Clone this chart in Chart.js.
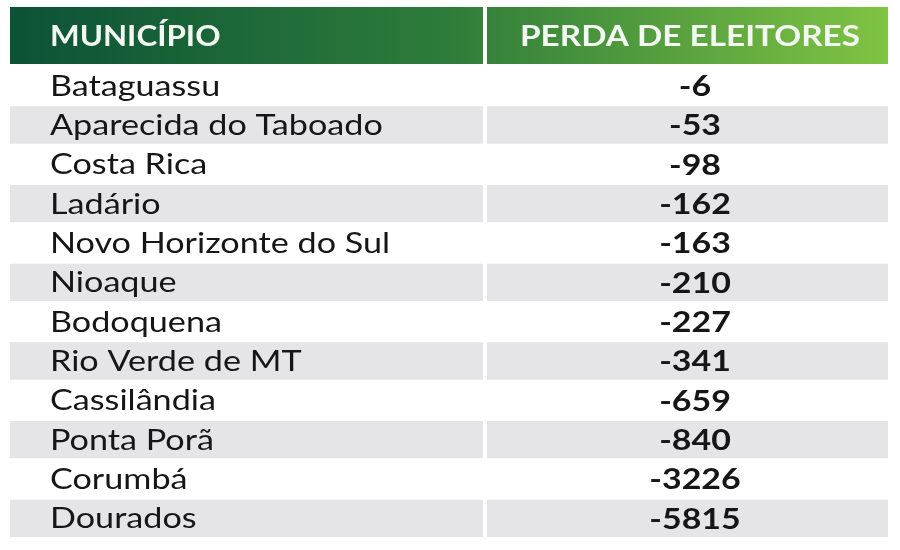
<!DOCTYPE html>
<html>
<head>
<meta charset="utf-8">
<script src="https://cdn.jsdelivr.net/npm/chart.js@4"></script>
<style>
  body { margin: 0; background: #ffffff; }
  #tableChart { display: block; }
</style>
</head>
<body>
<canvas id="tableChart" width="900" height="550"></canvas>
<script>
// Data
const headers = ['MUNICÍPIO', 'PERDA DE ELEITORES'];
const municipios = [
  'Bataguassu', 'Aparecida do Taboado', 'Costa Rica', 'Ladário',
  'Novo Horizonte do Sul', 'Nioaque', 'Bodoquena', 'Rio Verde de MT',
  'Cassilândia', 'Ponta Porã', 'Corumbá', 'Dourados'
];
const perdas = [-6, -53, -98, -162, -163, -210, -227, -341, -659, -840, -3226, -5815];

// layout (x scale runs 0..878, i.e. pixels from the table's left edge)
const leftCell = [0, 473];
const rightCell = [477, 878];
const rowColors = municipios.map((m, i) => i % 2 === 0 ? '#ffffff' : '#e5e5e7');

const FONT = 'Lato, "Open Sans", sans-serif';

// the original font is wider than Lato, so stretch the text a bit
function wideText(ctx, text, x, y, align, sx) {
  ctx.save();
  ctx.translate(x, y);
  ctx.scale(sx, 1);
  ctx.textAlign = align;
  ctx.fillText(text, 0, 0);
  ctx.restore();
}

const tablePlugin = {
  id: 'tableText',
  beforeDatasetsDraw(chart) {
    const ctx = chart.ctx;
    const area = chart.chartArea;
    const x = chart.scales.x;
    // header band
    const top = 7, bottom = 64;
    const grad = ctx.createLinearGradient(area.left, 0, area.right, 0);
    grad.addColorStop(0, '#0b5236');
    grad.addColorStop(0.5, '#2e7c3a');
    grad.addColorStop(1, '#80c443');
    ctx.save();
    ctx.fillStyle = grad;
    ctx.fillRect(area.left, top, area.right - area.left, bottom - top);
    ctx.fillStyle = '#ffffff';
    ctx.fillRect(x.getPixelForValue(leftCell[1]), top, x.getPixelForValue(rightCell[0]) - x.getPixelForValue(leftCell[1]), bottom - top);

    ctx.fillStyle = '#f4f8f2';
    ctx.textBaseline = 'middle';
    ctx.font = 'bold 28px ' + FONT;
    wideText(ctx, headers[0], x.getPixelForValue(leftCell[0]) + 40, (top + bottom) / 2 + 1, 'left', 1.12);
    wideText(ctx, headers[1], 690, (top + bottom) / 2 + 1, 'center', 1.19);
    ctx.restore();
  },
  afterDatasetsDraw(chart) {
    const ctx = chart.ctx;
    const x = chart.scales.x;
    const y = chart.scales.y;
    ctx.save();
    ctx.fillStyle = '#161616';
    ctx.textBaseline = 'middle';
    municipios.forEach((name, i) => {
      const py = y.getPixelForValue(i) + 1;
      ctx.font = '28px ' + FONT;
      wideText(ctx, name, x.getPixelForValue(leftCell[0]) + 40, py, 'left', 1.22);
      ctx.font = 'bold 29px ' + FONT;
      wideText(ctx, String(perdas[i]), 695, py, 'center', 1.17);
    });
    ctx.restore();
  }
};

const tableCtx = document.getElementById('tableChart').getContext('2d');

const tableChart = new Chart(tableCtx, {
  type: 'bar',
  data: {
    labels: municipios,
    datasets: [{
      label: 'Município',
      data: municipios.map(() => leftCell),
      backgroundColor: rowColors,
      borderWidth: 0,
      borderSkipped: false,
      barPercentage: 1,
      categoryPercentage: 0.95,
      grouped: false
    }, {
      label: 'Perda de eleitores',
      data: perdas.map(() => rightCell),
      backgroundColor: rowColors,
      borderWidth: 0,
      borderSkipped: false,
      barPercentage: 1,
      categoryPercentage: 0.95,
      grouped: false
    }]
  },
  options: {
    indexAxis: 'y',
    responsive: false,
    animation: false,
    layout: {
      padding: { left: 10, right: 12, top: 66, bottom: 12 }
    },
    plugins: {
      legend: { display: false },
      tooltip: { enabled: false },
      title: { display: false }
    },
    scales: {
      x: { type: 'linear', min: 0, max: 878, display: false },
      y: { display: false }
    }
  },
  plugins: [tablePlugin]
});
</script>
</body>
</html>
